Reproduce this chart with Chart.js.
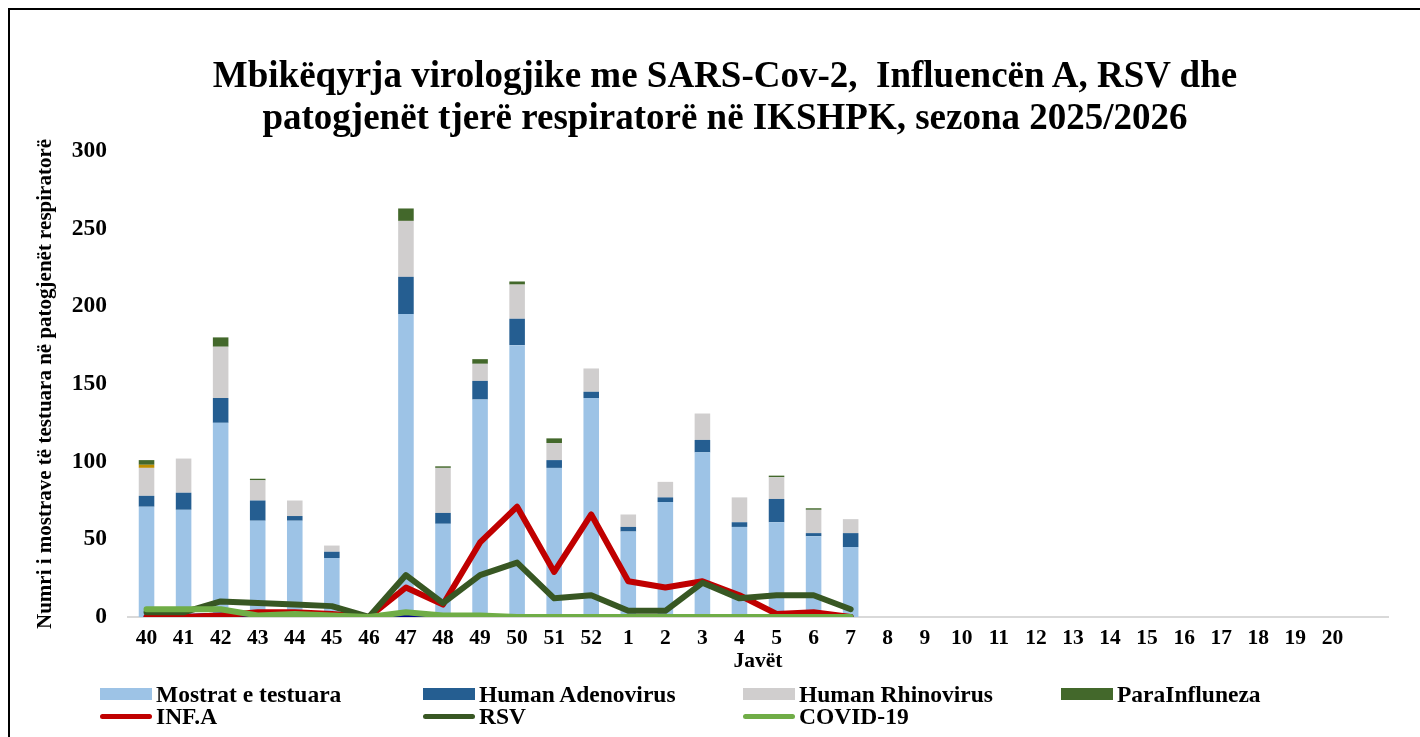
<!DOCTYPE html>
<html>
<head>
<meta charset="utf-8">
<script src="https://cdn.jsdelivr.net/npm/chart.js@4.4.1/dist/chart.umd.min.js"></script>
<style>
  html, body { margin: 0; padding: 0; background: #fff; }
  body { width: 1420px; height: 737px; position: relative; overflow: hidden; font-family: "Liberation Serif", "Times New Roman", serif; }
  #frame { position: absolute; left: 8px; top: 8px; width: 1430px; height: 760px; border: 2px solid #000; box-sizing: border-box; }
  #titulli { position: absolute; left: 0; width: 1450px; top: 54px; text-align: center; font-weight: bold; font-size: 37px; line-height: 42px; color: #000; }
  #grafiku { position: absolute; left: 0; top: 0; }
  .leg { position: absolute; display: flex; align-items: center; font-weight: bold; font-size: 23.5px; color: #000; white-space: nowrap; }
  .leg .sh { width: 52px; margin-right: 4px; }
</style>
</head>
<body>
<div id="frame"></div>
<canvas id="grafiku" width="1420" height="737"></canvas>
<div id="titulli">Mbikëqyrja virologjike me SARS-Cov-2,&nbsp; Influencën A, RSV dhe<br>patogjenët tjerë respiratorë në IKSHPK, sezona 2025/2026</div>
<div id="legjenda"></div>
<script>
// javet e sezones (kategoria e fundit bosh si ne Excel)
const javet = ['40','41','42','43','44','45','46','47','48','49','50','51','52',
  '1','2','3','4','5','6','7','8','9','10','11','12','13','14','15','16','17','18','19','20',''];

const mostrat  = [71, 69, 125, 62, 62, 38, 0, 195, 60, 140, 175, 96, 141, 55, 74, 106, 58, 61, 52, 45];
const adeno    = [7, 11, 16, 13, 3, 4, 0, 24, 7, 12, 17, 5, 4, 3, 3, 8, 3, 15, 2, 9];
const rhino    = [18, 22, 33, 13, 10, 4, 0, 36, 29, 11, 22, 11, 15, 8, 10, 17, 16, 14, 15, 9];
const tjere    = [2, 0, 0, 0, 0, 0, 0, 0, 0, 0, 0, 0, 0, 0, 0, 0, 0, 0, 0, 0];
const para     = [3, 0, 6, 1, 0, 0, 0, 8, 1, 3, 2, 3, 0, 0, 0, 0, 0, 1, 1, 0];

const infA     = [0, 0, 1, 3, 3, 2, 0, 19, 8, 48, 71, 29, 66, 23, 19, 23, 14, 2, 3, 0];
const rsv      = [3, 3, 10, 9, 8, 7, 0, 27, 9, 27, 35, 12, 14, 4, 4, 22, 12, 14, 14, 5];
const covid    = [5, 5, 5, 1, 2, 1, 0, 3, 1, 1, 0, 0, 0, 0, 0, 0, 0, 0, 0, 0];
const infB     = [0, 0, 1, 0, 0, 0, 0, 1, 0, 0, 0, 0, 0, 0, 0, 0, 0, 0, 0, 0];

const yTicks = [0, 50, 100, 150, 200, 250, 300];

const legjendaEmrat = ['Mostrat e testuara', 'Human Adenovirus', 'Human Rhinovirus', 'ParaInfluneza',
  'INF.A', 'RSV', 'COVID-19'];

const fonti = '"Liberation Serif", "Times New Roman", serif';

function shtyllat(label, data, ngjyra) {
  return { type: 'bar', label: label, data: data, backgroundColor: ngjyra, order: 10,
    barPercentage: 0.42, categoryPercentage: 1.0, stack: 'mostrat' };
}
function vija(label, data, ngjyra, rendi) {
  return { type: 'line', label: label, data: data, borderColor: ngjyra, backgroundColor: ngjyra,
    borderWidth: 6, pointRadius: 0, tension: 0, fill: false, order: rendi, stack: 'v' + rendi,
    borderCapStyle: 'round', borderJoinStyle: 'round' };
}

const datasets = [
  shtyllat('Mostrat e testuara', mostrat, '#9DC3E6'),
  shtyllat('Human Adenovirus', adeno, '#255E91'),
  shtyllat('Human Rhinovirus', rhino, '#D0CECE'),
  shtyllat('Tjerë', tjere, '#BF8F00'),
  shtyllat('ParaInfluneza', para, '#43682B'),
  vija('INF.B', infB, '#000090', 4),
  vija('INF.A', infA, '#C00000', 3),
  vija('RSV', rsv, '#385723', 2),
  vija('COVID-19', covid, '#70AD47', 1)
];

const grafiku = new Chart(document.getElementById('grafiku').getContext('2d'), {
  data: { labels: javet, datasets: datasets },
  options: {
    responsive: false,
    animation: false,
    devicePixelRatio: 1,
    layout: { padding: { left: 10, right: 32, top: 151, bottom: 55 } },
    plugins: {
      legend: { display: false },
      title: { display: false },
      tooltip: { enabled: false }
    },
    scales: {
      x: {
        stacked: true,
        grid: { display: false, drawTicks: false },
        border: { display: true, color: '#D9D9D9', width: 2 },
        ticks: { color: '#000', padding: 9, maxRotation: 0, autoSkip: false,
          font: { family: fonti, size: 21.5, weight: 'bold' } },
        title: { display: true, text: 'Javët', color: '#000', padding: { top: 0, bottom: 8 },
          font: { family: fonti, size: 21.5, weight: 'bold' } },
        afterFit: function (s) { s.height = 65; }
      },
      y: {
        stacked: true,
        min: 0, max: 300,
        afterBuildTicks: function (s) { s.ticks = yTicks.map(v => ({ value: v })); },
        grid: { display: false, drawTicks: false },
        border: { display: false },
        ticks: { color: '#000', padding: 21,
          font: { family: fonti, size: 23.5, weight: 'bold' } },
        title: { display: true, text: 'Numri i mostrave të testuara në patogjenët respiratorë',
          color: '#000', padding: { top: 23, bottom: 0 },
          font: { family: fonti, size: 21, weight: 'bold' } },
        afterFit: function (s) { s.width = 118; }
      }
    }
  }
});

// legjenda ne kolona si ne Excel
const kolonat = [100, 423, 743, 1061];
const rreshtat = [694, 716];
const leg = document.getElementById('legjenda');
legjendaEmrat.forEach(function (emri, i) {
  const ds = grafiku.data.datasets.find(d => d.label === emri);
  const el = document.createElement('div');
  el.className = 'leg';
  el.style.left = kolonat[i % 4] + 'px';
  el.style.top = (rreshtat[Math.floor(i / 4)] - 12) + 'px';
  el.style.height = '24px';
  const sh = document.createElement('span');
  sh.className = 'sh';
  if (ds.type === 'bar') {
    sh.style.height = '12px';
    sh.style.background = ds.backgroundColor;
  } else {
    sh.style.height = '5px';
    sh.style.borderRadius = '3px';
    sh.style.background = ds.borderColor;
  }
  el.appendChild(sh);
  const t = document.createElement('span');
  t.textContent = emri;
  el.appendChild(t);
  leg.appendChild(el);
});
</script>
</body>
</html>
